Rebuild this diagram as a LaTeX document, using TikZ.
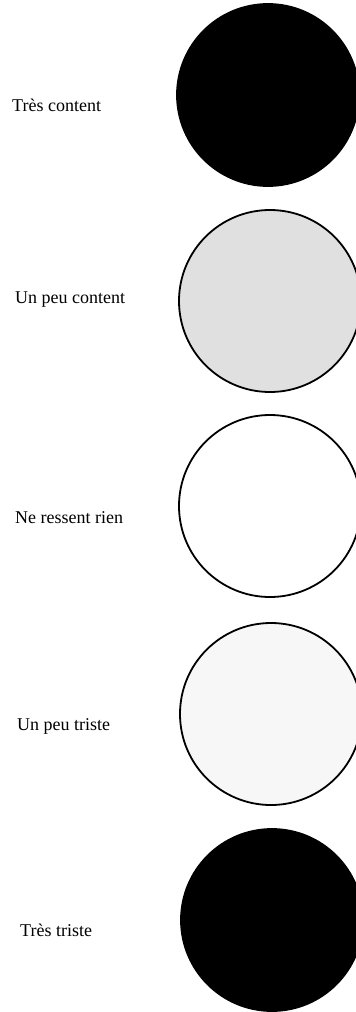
\documentclass[tikz,border=0pt]{standalone}
\usepackage{fontspec}
\setmainfont{Liberation Serif}
\usepackage{tikz}

\tikzset{
    rond/.style={line width=1.8pt, draw=black},
    etiquette/.style={anchor=west, inner sep=0pt, font=\fontsize{18}{21}\selectfont}
}

\begin{document}
\begin{tikzpicture}[x=1pt, y=-1pt]
    % --- 1. Cadre de la page ---
    \useasboundingbox (0,0) rectangle (356,1012);
    \clip (0,0) rectangle (356,1012);
    \def\rC{91}

    % --- 2. Centres des cercles ---
    \coordinate (C1) at (268,95);
    \coordinate (C2) at (270,301);
    \coordinate (C3) at (270,506);
    \coordinate (C4) at (271,714);
    \coordinate (C5) at (272,920);

    % --- 3. Cercles (du plus content au plus triste) ---
    \draw[rond, fill=black] (C1) circle (\rC);
    \draw[rond, fill=black!12] (C2) circle (\rC);
    \draw[rond, fill=white] (C3) circle (\rC);
    \draw[rond, fill=black!3] (C4) circle (\rC);
    \draw[rond, fill=black] (C5) circle (\rC);

    % --- 4. Etiquettes ---
    \node[etiquette] (tc) at (12,105) {Très content};
    \node[etiquette] (upc) at (15,300) {Un peu content};
    \node[etiquette] (nrr) at (15,518) {Ne ressent rien};
    \node[etiquette] (upt) at (17,726) {Un peu triste};
    \node[etiquette] (tt) at (20,930) {Très triste};

\end{tikzpicture}
\end{document}
